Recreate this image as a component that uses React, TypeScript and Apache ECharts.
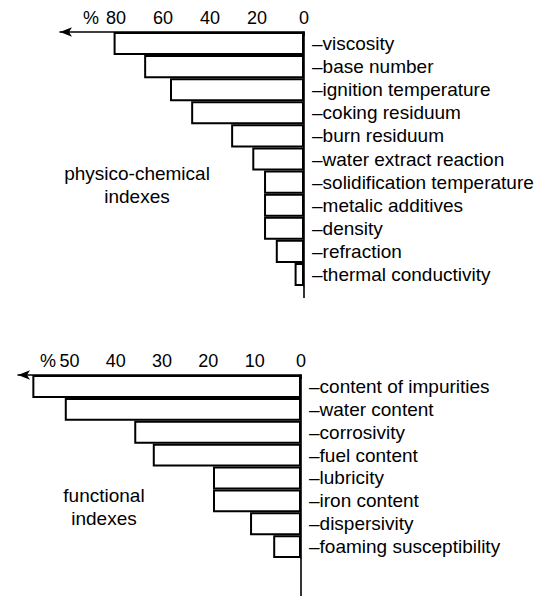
import React, { useEffect, useRef } from "react";
import * as echarts from "echarts";

const physCats = [
  "viscosity",
  "base number",
  "ignition temperature",
  "coking residuum",
  "burn residuum",
  "water extract reaction",
  "solidification temperature",
  "metalic additives",
  "density",
  "refraction",
  "thermal conductivity",
];
const physValues = [81, 68, 57, 48, 31, 22, 17, 17, 17, 12, 4];
const physTicks = [0, 20, 40, 60, 80];

const funcCats = [
  "content of impurities",
  "water content",
  "corrosivity",
  "fuel content",
  "lubricity",
  "iron content",
  "dispersivity",
  "foaming susceptibility",
];
const funcValues = [58, 51, 36, 32, 19, 19, 11, 6];
const funcTicks = [0, 10, 20, 30, 40, 50];

const FONT = "'Liberation Sans', Arial, sans-serif";

export default function App() {
  const ref = useRef<HTMLDivElement>(null);
  useEffect(() => {
    document.body.style.margin = "0";
    const chart = echarts.init(ref.current!, null, { renderer: "svg" });
    const pctTop = 90.6;
    const pctBot = 54.6;
    const xAxisBase = (max: number, ticks: number[], pct: number, gi: number) => ({
      type: "value",
      gridIndex: gi,
      position: "top",
      inverse: true,
      min: 0,
      max,
      splitLine: { show: false },
      axisLine: {
        show: true,
        symbol: ["arrow", "none"],
        symbolSize: [7, 12],
        lineStyle: { color: "#000", width: 1.6 },
      },
      axisTick: {
        show: true,
        inside: true,
        length: 4,
        customValues: ticks,
        lineStyle: { color: "#000", width: 1.5 },
      },
      axisLabel: {
        customValues: [...ticks, pct],
        formatter: (v: number) => (v === pct ? "%" : String(v)),
        color: "#000",
        fontSize: 18,
        fontFamily: FONT,
        margin: 5,
      },
    });
    const yAxisBase = (cats: string[], gi: number) => ({
      type: "category",
      gridIndex: gi,
      position: "right",
      inverse: true,
      data: cats,
      axisTick: { show: false },
      axisLine: { show: true, lineStyle: { color: "#000", width: 1.6 } },
      axisLabel: {
        interval: 0,
        formatter: (v: string) => "–" + v,
        color: "#000",
        fontSize: 19,
        fontFamily: FONT,
        margin: 8,
      },
    });
    const barSeries = (vals: number[], gi: number) => ({
      type: "bar",
      xAxisIndex: gi,
      yAxisIndex: gi,
      data: vals,
      barCategoryGap: 0,
      itemStyle: { color: "#fff", borderColor: "#000", borderWidth: 2 },
      silent: true,
    });
    chart.setOption({
      animation: false,
      backgroundColor: "#fff",
      grid: [
        { left: 60, right: 234, top: 32, height: 254 },
        { left: 18, right: 237, top: 375, height: 183 },
      ],
      xAxis: [xAxisBase(103.8, physTicks, pctTop, 0), xAxisBase(61.1, funcTicks, pctBot, 1)],
      yAxis: [yAxisBase(physCats, 0), yAxisBase(funcCats, 1)],
      series: [barSeries(physValues, 0), barSeries(funcValues, 1)],
      graphic: [
        {
          type: "line",
          shape: { x1: 304, y1: 286, x2: 304, y2: 298 },
          style: { stroke: "#000", lineWidth: 1.6 },
        },
        {
          type: "line",
          shape: { x1: 301, y1: 558, x2: 301, y2: 596 },
          style: { stroke: "#000", lineWidth: 1.6 },
        },
        {
          type: "text",
          x: 137,
          y: 162,
          style: {
            text: "physico-chemical\nindexes",
            align: "center",
            fontSize: 19,
            lineHeight: 23,
            fontFamily: FONT,
            fill: "#000",
          },
        },
        {
          type: "text",
          x: 104,
          y: 484,
          style: {
            text: "functional\nindexes",
            align: "center",
            fontSize: 19,
            lineHeight: 23,
            fontFamily: FONT,
            fill: "#000",
          },
        },
      ],
    });
    return () => chart.dispose();
  }, []);
  return <div ref={ref} style={{ width: 538, height: 596 }} />;
}
